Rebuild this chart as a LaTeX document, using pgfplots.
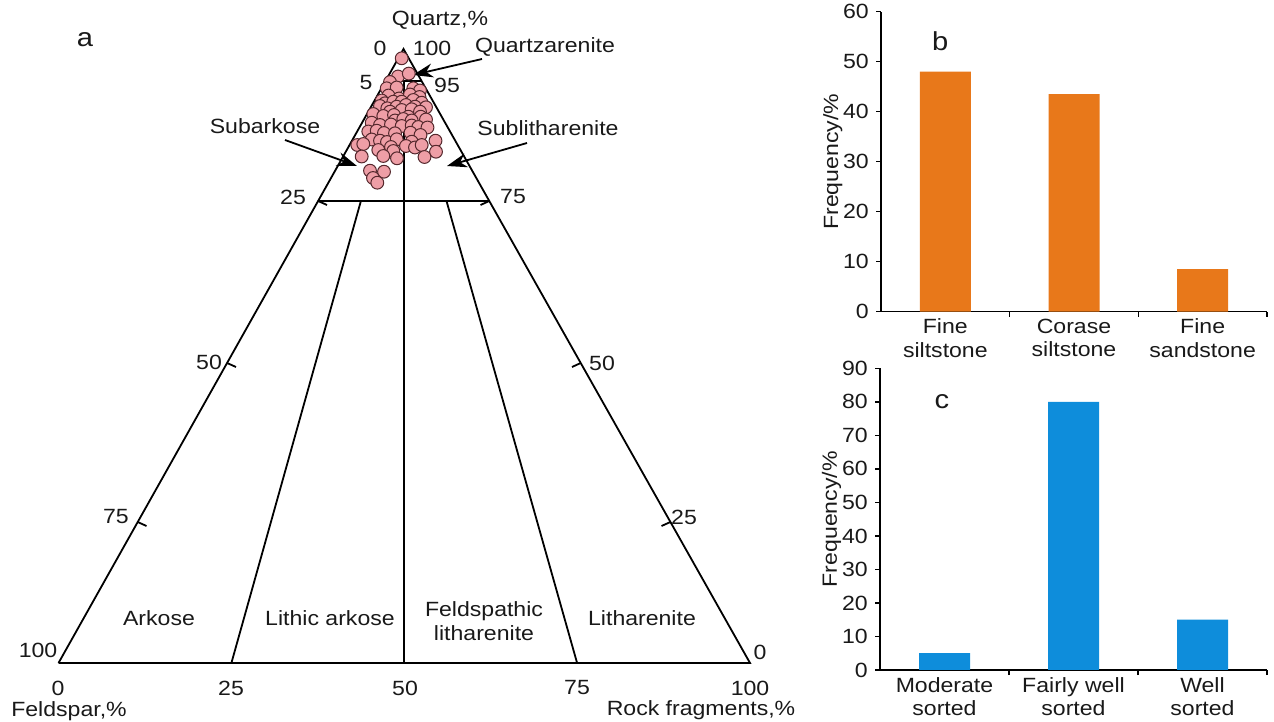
\documentclass[border=0pt]{standalone}
\usepackage{fontspec}
\setmainfont{Liberation Sans}[FakeStretch=1.12]
\usepackage{pgfplots}
\pgfplotsset{compat=1.18}
\usetikzlibrary{arrows.meta}
\definecolor{barorange}{RGB}{232,120,26}
\definecolor{barblue}{RGB}{14,141,219}
\definecolor{ptfill}{RGB}{238,158,166}
\definecolor{ptdraw}{RGB}{85,40,45}
\definecolor{txt}{RGB}{25,25,25}
\pgfplotsset{
  barax/.style={
    anchor=south west, scale only axis,
    xmin=-0.5, xmax=2.5, ymin=0,
    axis x line*=bottom, axis y line*=left,
    tick pos=left, tick align=outside,
    major tick length=2.5bp, minor tick length=2.5bp,
    xtick={0,1,2}, minor xtick={0.5,1.5,2.5},
    major x tick style={draw=none},
    every tick/.style={black, line width=0.7bp},
    axis line style={black, line width=0.8bp},
    xticklabel style={align=center, text=txt, yshift=2.5bp},
    yticklabel style={text=txt},
    /pgf/number format/assume math mode=true,
    ylabel={Frequency/\%},
    ylabel style={at={(axis description cs:-0.125,0.5)}, anchor=center, text=txt},
    ybar, bar width=25.5bp,
  }
}
\begin{document}
\fontsize{10.3bp}{11.8bp}\selectfont
\begin{tikzpicture}
\useasboundingbox (0,0) rectangle (637bp,361bp);
% ---------------- ternary diagram (pixel-like Cartesian coordinates) ----------------
\begin{axis}[at={(0,0)}, anchor=south west, width=637bp, height=361bp, scale only axis,
  xmin=0, xmax=1274, ymin=0, ymax=722, y dir=reverse, hide axis, clip=false]
% triangle
\addplot[black, line width=0.9bp] coordinates {(58.5,663) (403.5,49) (750,663) (58.5,663)};
% 95 % and 75 % quartz lines
\addplot[black, line width=0.9bp] coordinates {(385.6,81) (421.5,81)};
\addplot[black, line width=0.9bp] coordinates {(318.1,201) (489.3,201)};
% class boundaries
\addplot[black, line width=0.9bp] coordinates {(404,663) (404,81)};
\addplot[black, line width=0.9bp] coordinates {(231.4,663) (360.9,201)};
\addplot[black, line width=0.9bp] coordinates {(577.1,663) (446.5,201)};
% edge ticks
\addplot[black, line width=0.9bp] coordinates {(318.1,201) (327,205)};
\addplot[black, line width=0.9bp] coordinates {(227.1,363) (236,367)};
\addplot[black, line width=0.9bp] coordinates {(137.7,522) (146.5,526)};
\addplot[black, line width=0.9bp] coordinates {(489.3,201) (480.5,205)};
\addplot[black, line width=0.9bp] coordinates {(580.7,363) (572,367)};
\addplot[black, line width=0.9bp] coordinates {(670.4,522) (661.5,526)};
% arrows
\addplot[black, line width=0.9bp, -{Stealth[length=10bp,width=7bp]}] coordinates {(482,59) (413,75)};
\addplot[black, line width=0.9bp, -{Stealth[length=10bp,width=7bp]}] coordinates {(285,140) (357,166)};
\addplot[black, line width=0.9bp, -{Stealth[length=10bp,width=7bp]}] coordinates {(527,143) (447,166)};
% samples
\addplot[only marks, mark=*, mark size=3.2bp,
  mark options={fill=ptfill, draw=ptdraw, line width=0.5bp}] coordinates {
(401.7,58.3) (398,76.5) (408.8,73.6) (390,82) (386.7,88.3) (396.7,87.5) (413.3,88.3) (420,90.5)
(388.5,95.5) (399,98.5) (410,94.5) (419.5,97) (381.7,100.5)
(385,103.3) (393.3,101.7) (401.7,101.7) (413.3,100) (421.7,102.7)
(380,106) (387.3,108.3) (396.7,106.7) (406,105) (415,106.7) (426,107.3)
(390,111.7) (401.7,110) (411.7,109.3) (420,111.7)
(373.3,114) (383.3,116) (394,115) (408.3,116.7) (420.7,116.7) (426,119.5)
(395,120.5) (403.3,119) (411.7,120.5)
(371.7,122.7) (380,125) (391,124.5) (401.7,126) (411.7,125.5) (418.3,127) (427.5,127.5)
(368.3,131.5) (376.7,130.7) (384,133) (395,133.3) (410.5,132.7) (420.5,135)
(371.7,139.5) (380,140.7) (387,142) (396.7,139.3) (411.7,141.7) (435.5,140.7)
(357.3,145) (363.3,144) (391,147) (406,146) (415,147.5) (421.7,145)
(378.3,150) (393.3,151) (436,151.7)
(361.7,156.5) (383.3,156) (397,158.3) (424.5,157)
(370,170.7) (384,171.7)
(373,178) (377.3,182.7)
};
% labels
\begin{scope}[every node/.style={text=txt, inner sep=0pt}]
\node at (axis cs:85,40) {\fontsize{13bp}{14bp}\selectfont a};
\node at (axis cs:440,20) {Quartz,\%};
\node at (axis cs:380,48) {0};
\node at (axis cs:432,48) {100};
\node at (axis cs:545,47) {Quartzarenite};
\node at (axis cs:366,83) {5};
\node at (axis cs:447,85) {95};
\node at (axis cs:265,126) {Subarkose};
\node at (axis cs:548,128) {Sublitharenite};
\node at (axis cs:293,197) {25};
\node at (axis cs:513,197) {75};
\node at (axis cs:209,362) {50};
\node at (axis cs:602,363) {50};
\node at (axis cs:116,517) {75};
\node at (axis cs:684,517) {25};
\node at (axis cs:38,650) {100};
\node at (axis cs:760,652) {0};
\node at (axis cs:58,688) {0};
\node at (axis cs:231,688) {25};
\node at (axis cs:405,688) {50};
\node at (axis cs:577,688) {75};
\node at (axis cs:750,688) {100};
\node at (axis cs:69,711) {Feldspar,\%};
\node at (axis cs:701,710) {Rock fragments,\%};
\node at (axis cs:159,618) {Arkose};
\node at (axis cs:330,618) {Lithic arkose};
\node[align=center] at (axis cs:484,621) {Feldspathic\\litharenite};
\node at (axis cs:642,618) {Litharenite};
\end{scope}
\end{axis}
% ---------------- b ----------------
\begin{axis}[barax, at={(440.5bp,205.15bp)}, width=193bp, height=150bp,
  ymax=60, ytick={0,10,...,60},
  xticklabels={{Fine\\siltstone},{Corase\\siltstone},{Fine\\sandstone}}]
\addplot[fill=barorange, draw=none] coordinates {(0,48) (1,43.5) (2,8.5)};
\node[text=txt] at (axis cs:-0.04,54) {\fontsize{13bp}{14bp}\selectfont b};
\end{axis}
% ---------------- c ----------------
\begin{axis}[barax, at={(440bp,26bp)}, width=193.5bp, height=150.85bp,
  ymax=90, ytick={0,10,...,90},
  xticklabels={{Moderate\\sorted},{Fairly well\\sorted},{Well\\sorted}}]
\addplot[fill=barblue, draw=none] coordinates {(0,5) (1,80) (2,15)};
\node[text=txt] at (axis cs:-0.02,80) {\fontsize{13bp}{14bp}\selectfont c};
\end{axis}
\end{tikzpicture}
\end{document}
